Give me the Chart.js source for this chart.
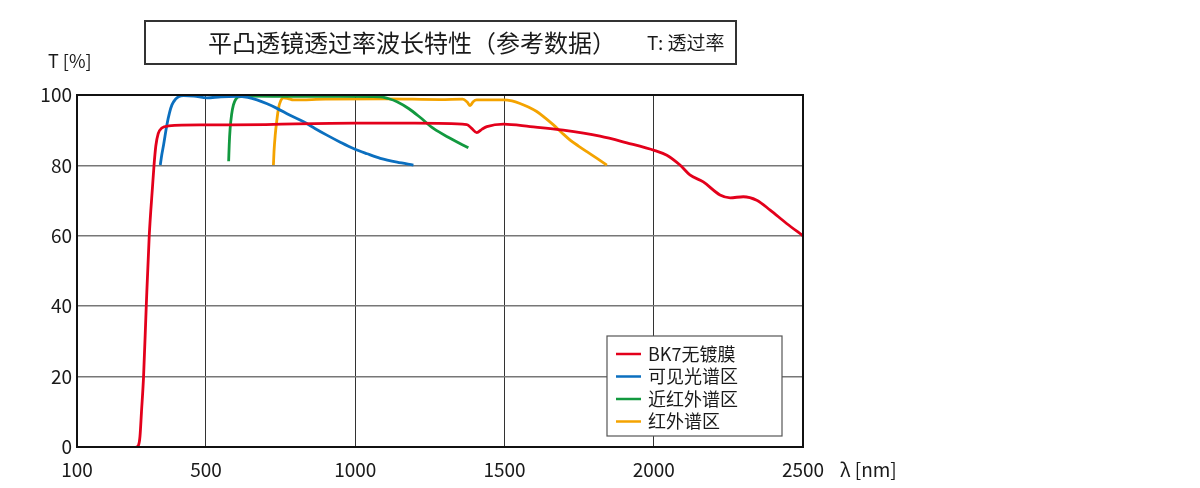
<!DOCTYPE html>
<html>
<head>
<meta charset="utf-8">
<script src="https://cdn.jsdelivr.net/npm/chart.js@4.4.1/dist/chart.umd.min.js"></script>
<style>
  html, body { margin: 0; padding: 0; background: #fff; }
  #wrap { position: relative; width: 1200px; height: 488px; }
  #titleBox {
    position: absolute; left: 144px; top: 20px; width: 593px; height: 45px;
    border: 2px solid #333; box-sizing: border-box;
    font-family: "Noto Sans CJK SC", "Noto Sans", sans-serif; color: #1a1a1a;
  }
  #titleBox .main { position: absolute; left: 62px; top: 5px; font-size: 24px; line-height: 30px; }
  #titleBox .sub { position: absolute; left: 501px; top: 8px; font-size: 19px; line-height: 24px; }
</style>
</head>
<body>
<div id="wrap">
  <canvas id="chart" width="1200" height="488"></canvas>
  <div id="titleBox"><span class="main">平凸透镜透过率波长特性（参考数据）</span><span class="sub">T: 透过率</span></div>
</div>
<script>
// wavelength (nm) / transmission (%)
const bk7Wl = [267, 274, 279, 284, 291, 300, 310, 321, 326, 332, 340, 352, 375, 500, 700, 800, 1000, 1200, 1374, 1390, 1407, 1425, 1441, 1497, 1586, 1697, 1820, 1910, 2004, 2044, 2088, 2121, 2166, 2222, 2256, 2300, 2345, 2390, 2445, 2500];
const bk7T  = [0, 0.5, 3, 10, 20, 40, 60, 74, 80, 85.5, 89, 90.6, 91.2, 91.5, 91.6, 91.8, 92, 92, 91.6, 90.5, 89.3, 90.3, 91, 91.7, 91, 90, 88.3, 86.4, 84.2, 82.9, 80.1, 77.3, 75.3, 71.6, 70.8, 71.1, 70.1, 67.3, 63.5, 60];

const visWl = [347, 352, 358, 369, 378, 386, 398, 408, 425, 460, 503, 550, 604, 640, 671, 705, 738, 780, 827, 865, 905, 950, 994, 1040, 1084, 1140, 1195];
const visT  = [80.1, 83, 85.8, 91.5, 95, 97.2, 98.8, 99.5, 99.8, 99.7, 99.2, 99.5, 99.6, 99.3, 98.6, 97.5, 96.2, 94.3, 92.4, 90.5, 88.6, 86.6, 84.8, 83.3, 82, 80.9, 80.1];

const nirWl = [576, 578, 581, 586, 592, 600, 609, 650, 800, 950, 1084, 1110, 1140, 1180, 1218, 1262, 1318, 1379];
const nirT  = [81.2, 86, 90.5, 94.5, 97.2, 98.8, 99.5, 99.7, 99.6, 99.6, 99.5, 99, 98.1, 96.1, 93.6, 90.5, 87.7, 85];

const irWl = [726, 728, 732, 737, 743, 750, 760, 775, 793, 900, 1100, 1285, 1360, 1375, 1385, 1395, 1407, 1497, 1525, 1552, 1580, 1608, 1636, 1664, 1692, 1720, 1748, 1776, 1810, 1843];
const irT  = [80.1, 84, 88.6, 92.5, 96.2, 98.3, 99.2, 99, 98.6, 98.8, 98.9, 98.7, 98.8, 98, 97, 98.1, 98.6, 98.6, 98.3, 97.6, 96.6, 95.3, 93.5, 91.5, 89.3, 87.2, 85.5, 83.9, 82, 80.1];

const seriesNames = ["BK7无镀膜", "可见光谱区", "近红外谱区", "红外谱区"];
const seriesColors = ["#e3001b", "#0b6fbf", "#12993f", "#f4a300"];

// the left edge of the axis is labelled "100" in the reference
const xTickValues = [68, 500, 1000, 1500, 2000, 2500];
const xTickLabels = ["100", "500", "1000", "1500", "2000", "2500"];
const yTickValues = [0, 20, 40, 60, 80, 100];

const FONT = '"Noto Sans CJK SC", "Noto Sans", sans-serif';

function pts(xs, ys) {
  return xs.map((x, i) => ({ x, y: ys[i] }));
}

const extras = {
  id: "extras",
  beforeDatasetsDraw(chart) {
    const { ctx, chartArea: a } = chart;
    // legend box background hides the grid behind it
    ctx.save();
    ctx.fillStyle = "#fff";
    ctx.fillRect(a.right - 196, a.bottom - 111, 175, 100);
    ctx.restore();
  },
  afterDraw(chart) {
    const { ctx, chartArea: a } = chart;
    ctx.save();
    // plot frame
    ctx.strokeStyle = "#111";
    ctx.lineWidth = 2;
    ctx.strokeRect(a.left, a.top, a.right - a.left, a.bottom - a.top);

    // legend
    const lx = a.right - 196, ly = a.bottom - 111;
    ctx.strokeStyle = "#555";
    ctx.lineWidth = 1.2;
    ctx.strokeRect(lx, ly, 175, 100);
    ctx.font = "18px " + FONT;
    ctx.textBaseline = "middle";
    ctx.textAlign = "left";
    seriesNames.forEach((name, i) => {
      const y = ly + 18 + i * 22.5;
      ctx.strokeStyle = seriesColors[i];
      ctx.lineWidth = 2.5;
      ctx.beginPath();
      ctx.moveTo(lx + 9, y);
      ctx.lineTo(lx + 34, y);
      ctx.stroke();
      ctx.fillStyle = "#1a1a1a";
      ctx.fillText(name, lx + 41, y);
    });

    // axis units
    ctx.fillStyle = "#1a1a1a";
    ctx.font = "18px " + FONT;
    ctx.fillText("T [%]", 48, 61);
    ctx.font = "19px " + FONT;
    ctx.fillText("λ [nm]", a.right + 37, a.bottom + 23);
    ctx.restore();
  }
};

new Chart(document.getElementById("chart"), {
  type: "line",
  data: {
    datasets: [
      { label: seriesNames[0], data: pts(bk7Wl, bk7T) },
      { label: seriesNames[1], data: pts(visWl, visT) },
      { label: seriesNames[2], data: pts(nirWl, nirT) },
      { label: seriesNames[3], data: pts(irWl, irT) },
    ].map((d, i) => Object.assign(d, {
      borderColor: seriesColors[i],
      borderWidth: 2.8,
      pointRadius: 0,
      fill: false,
      cubicInterpolationMode: "monotone",
    })),
  },
  options: {
    responsive: false,
    animation: false,
    layout: { padding: { left: 0, right: 397, top: 95, bottom: 0 } },
    plugins: {
      legend: { display: false },
      tooltip: { enabled: false },
    },
    scales: {
      x: {
        type: "linear",
        min: xTickValues[0],
        max: 2500,
        afterBuildTicks: (axis) => { axis.ticks = xTickValues.map((v) => ({ value: v })); },
        afterFit: (axis) => { axis.height = 41; },
        grid: { color: "#333", lineWidth: 1, drawTicks: false },
        border: { display: false },
        ticks: {
          autoSkip: false,
          maxRotation: 0,
          padding: 11,
          color: "#1a1a1a",
          font: { family: FONT, size: 19 },
          callback: (v, i) => xTickLabels[i],
        },
      },
      y: {
        min: 0,
        max: 100,
        afterBuildTicks: (axis) => { axis.ticks = yTickValues.map((v) => ({ value: v })); },
        afterFit: (axis) => { axis.width = 77; },
        grid: { color: "#777", lineWidth: 1.5, drawTicks: false },
        border: { display: false },
        ticks: {
          padding: 5,
          color: "#1a1a1a",
          font: { family: FONT, size: 19 },
        },
      },
    },
  },
  plugins: [extras],
});
</script>
</body>
</html>
